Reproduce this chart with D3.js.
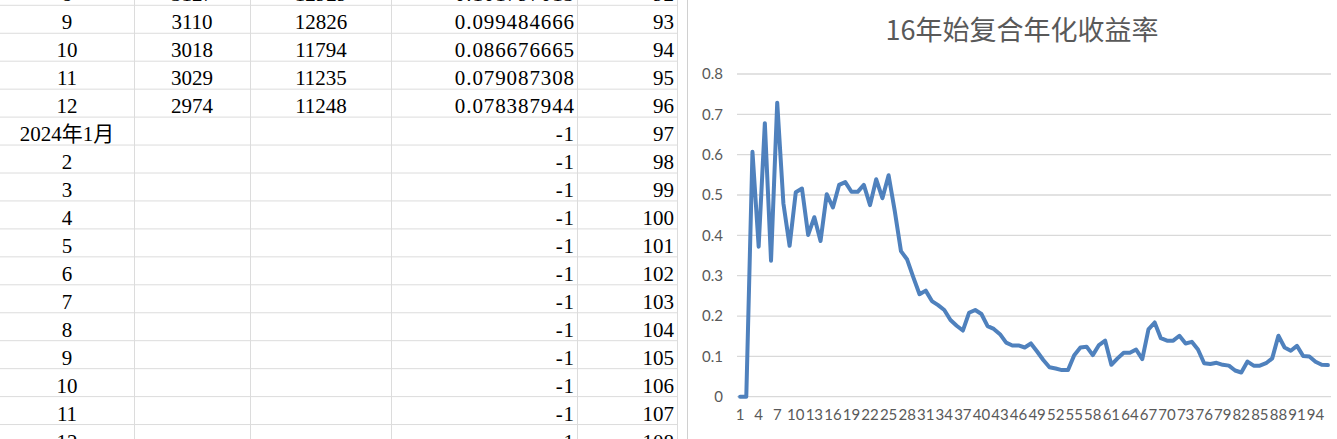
<!DOCTYPE html>
<html><head><meta charset="utf-8">
<script src="https://cdn.jsdelivr.net/npm/d3@7"></script>
<style>html,body{margin:0;padding:0;background:#fff;overflow:hidden}</style>
</head><body>
<svg id="c" width="1337" height="439"></svg>
<script>
// ---- spreadsheet data ----
const rowLabels = ["8","9","10","11","12","2024年1月","2","3","4","5","6","7","8","9","10","11","12"];
const colB = ["3127","3110","3018","3029","2974","","","","","","","","","","","",""];
const colC = ["12929","12826","11794","11235","11248","","","","","","","","","","","",""];
const colD = ["0.101797013","0.099484666","0.086676665","0.079087308","0.078387944","-1","-1","-1","-1","-1","-1","-1","-1","-1","-1","-1","-1"];
const colE = ["92","93","94","95","96","97","98","99","100","101","102","103","104","105","106","107","108"];

// ---- chart data ----
const title = "16年始复合年化收益率";
const categories = [1,2,3,4,5,6,7,8,9,10,11,12,13,14,15,16,17,18,19,20,21,22,23,24,25,26,27,28,29,30,31,32,33,34,35,36,37,38,39,40,41,42,43,44,45,46,47,48,49,50,51,52,53,54,55,56,57,58,59,60,61,62,63,64,65,66,67,68,69,70,71,72,73,74,75,76,77,78,79,80,81,82,83,84,85,86,87,88,89,90,91,92,93,94,95,96];
const values = [0,0,0.607,0.372,0.678,0.337,0.729,0.479,0.374,0.507,
0.516,0.401,0.445,0.386,0.502,0.469,0.525,0.532,0.508,0.508,
0.525,0.475,0.539,0.492,0.549,0.46,0.361,0.340,0.296,0.254,
0.263,0.237,0.227,0.215,0.190,0.176,0.164,0.208,0.215,0.205,
0.175,0.168,0.155,0.134,0.127,0.127,0.122,0.132,0.112,0.091,
0.073,0.070,0.066,0.066,0.103,0.122,0.124,0.103,0.128,0.139,
0.079,0.095,0.109,0.109,0.117,0.093,0.167,0.184,0.145,0.139,
0.139,0.151,0.132,0.136,0.117,0.083,0.081,0.084,0.079,0.077,
0.065,0.060,0.087,0.077,0.077,0.083,0.095,0.151,0.122,0.114,
0.126,0.101,0.0995,0.0867,0.0791,0.0784];
const yTicks = [0,0.1,0.2,0.3,0.4,0.5,0.6,0.7,0.8];
const xTickLabels = categories.filter((d,i)=>i%3===0);

const svg = d3.select("#c");

// ---- spreadsheet ----
const sheet = svg.append("g");
const rowH = 27.95, firstTop = 5.3 - 27.95;
const colLines = [134.5, 250.5, 391.5, 577.5, 677.5];
for (let i = 0; i <= rowLabels.length; i++) {
  sheet.append("line").attr("x1",0).attr("x2",678).attr("y1",firstTop+rowH*i).attr("y2",firstTop+rowH*i)
    .attr("stroke","#dcdcdc").attr("stroke-width",1);
}
colLines.forEach(x=>{
  sheet.append("line").attr("x1",x).attr("x2",x).attr("y1",0).attr("y2",439).attr("stroke","#dcdcdc");
});
const tf = "'Liberation Serif','Noto Sans CJK SC',serif";
function cellText(arr, x, anchor, ls){
  sheet.selectAll(null).data(arr).join("text")
    .attr("x",x).attr("y",(d,i)=>firstTop+rowH*i+24)
    .attr("text-anchor",anchor)
    .attr("font-family",tf).attr("font-size",21).attr("fill","#000")
    .attr("letter-spacing",ls||0)
    .text(d=>d);
}
cellText(rowLabels, 67, "middle");
cellText(colB, 192, "middle");
cellText(colC, 321, "middle");
cellText(colD, 575, "end", 0.9);
cellText(colE, 674, "end");

// ---- chart ----
svg.append("line").attr("x1",687.5).attr("x2",687.5).attr("y1",0).attr("y2",439).attr("stroke","#d0d0d0");

const x = d3.scaleBand().domain(categories).range([737,1331]);
const y = d3.scaleLinear().domain([0,0.8]).range([396.7,74]);
const cf = "Lato,'Open Sans',sans-serif";

const grid = svg.append("g");
grid.selectAll("line").data(yTicks).join("line")
  .attr("x1",737).attr("x2",1331).attr("y1",d=>y(d)).attr("y2",d=>y(d))
  .attr("stroke","#d9d9d9").attr("stroke-width",1.3);

const yAxis = svg.append("g").attr("transform","translate(737,0)")
  .call(d3.axisLeft(y).tickValues(yTicks).tickSize(0).tickPadding(14).tickFormat(d=>d===0?"0":d3.format(".1f")(d)));
yAxis.select(".domain").remove();
yAxis.selectAll("text").attr("font-family",cf).attr("font-size",15).attr("fill","#595959");

const xAxis = svg.append("g").attr("transform","translate(0,396.7)")
  .call(d3.axisBottom(x).tickValues(xTickLabels).tickSize(0).tickPadding(13));
xAxis.select(".domain").remove();
xAxis.selectAll("text").attr("font-family",cf).attr("font-size",15).attr("fill","#595959");

const line = d3.line().x((d,i)=>x(categories[i])+x.bandwidth()/2).y(d=>y(d));
svg.append("path").datum(values).attr("d",line)
  .attr("fill","none").attr("stroke","#4f81bd").attr("stroke-width",4)
  .attr("stroke-linejoin","round").attr("stroke-linecap","round");

svg.append("text").attr("x",1022).attr("y",40).attr("text-anchor","middle")
  .attr("font-family","'Noto Sans CJK SC',sans-serif").attr("font-size",27).attr("fill","#595959")
  .text(title);
</script>
</body></html>
